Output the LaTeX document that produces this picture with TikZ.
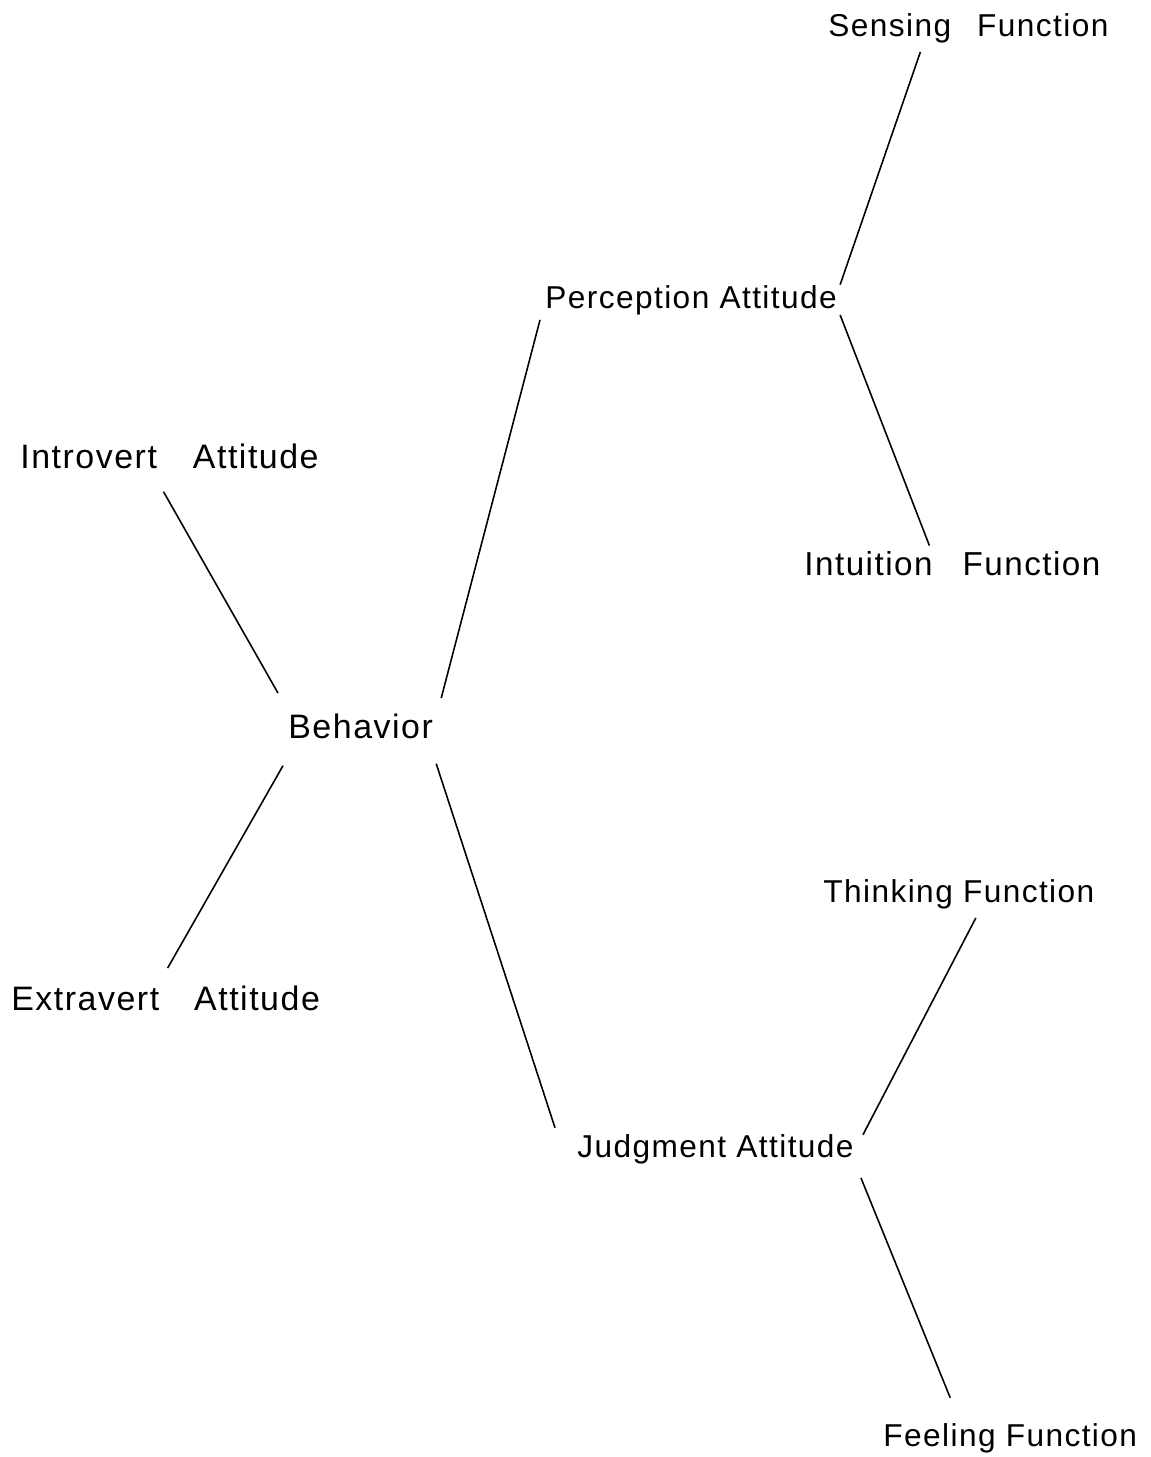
\documentclass[tikz,border=0pt]{standalone}
\usepackage{fontspec}
\setmainfont{Liberation Sans}[LetterSpace=4.5]
\usepackage{tikz}
\usetikzlibrary{calc}
\def\gap#1{\hspace{#1cm}}

\begin{document}
\begin{tikzpicture}[x=0.02cm, y=-0.02cm,
    lbl/.style={anchor=base west, inner sep=0, font=\fontsize{18}{20}\selectfont},
    big/.style={lbl, font=\fontsize{19.3}{21}\selectfont},
    link/.style={black, line width=0.9pt}]
  \useasboundingbox (0,0) rectangle (1151,1457);

	\node[lbl] (sens) at (828,36) {Sensing\gap{0.52}Function};
	\node[lbl] (perc) at (545,308) {Perception Attitude};
	\node[lbl, font=\fontsize{18.9}{21}\selectfont] (intu) at (804,575) {Intuition\gap{0.6}Function};
	\node[big] (intro) at (20,468) {Introvert\gap{0.72}Attitude};
	\node[big] (beh) at (288,738) {Behavior};
	\node[big] (extra) at (11,1010) {Extravert\gap{0.7}Attitude};
	\node[lbl] (think) at (823,902) {Thinking Function};
	\node[lbl] (judg) at (577,1157) {Judgment Attitude};
	\node[lbl] (feel) at (883,1446) {Feeling Function};

	% attitudes
	\draw[link] ($(intro.south)+(-6,23)$) -- ($(beh.north west)+(-10,-20)$);
	\draw[link] ($(beh.south west)+(-5,27)$) -- ($(extra.north)+(2,-17)$);
	\draw[link] ($(beh.north east)+(8,-15)$) -- ($(perc.south west)+(-5,5)$);
	\draw[link] ($(beh.south east)+(3,25)$) -- ($(judg.north west)+(-22,-6)$);

	% functions
	\draw[link] ($(perc.north east)+(3,0)$) -- ($(sens.south)+(-48,9)$);
	\draw[link] ($(perc.south east)+(3,0)$) -- ($(intu.north)+(-23,-5)$);
	\draw[link] ($(judg.north east)+(9,1)$) -- ($(think.south)+(17,9)$);
	\draw[link] ($(judg.south east)+(7,14)$) -- ($(feel.north)+(-60,-25)$);

\end{tikzpicture}
\end{document}
